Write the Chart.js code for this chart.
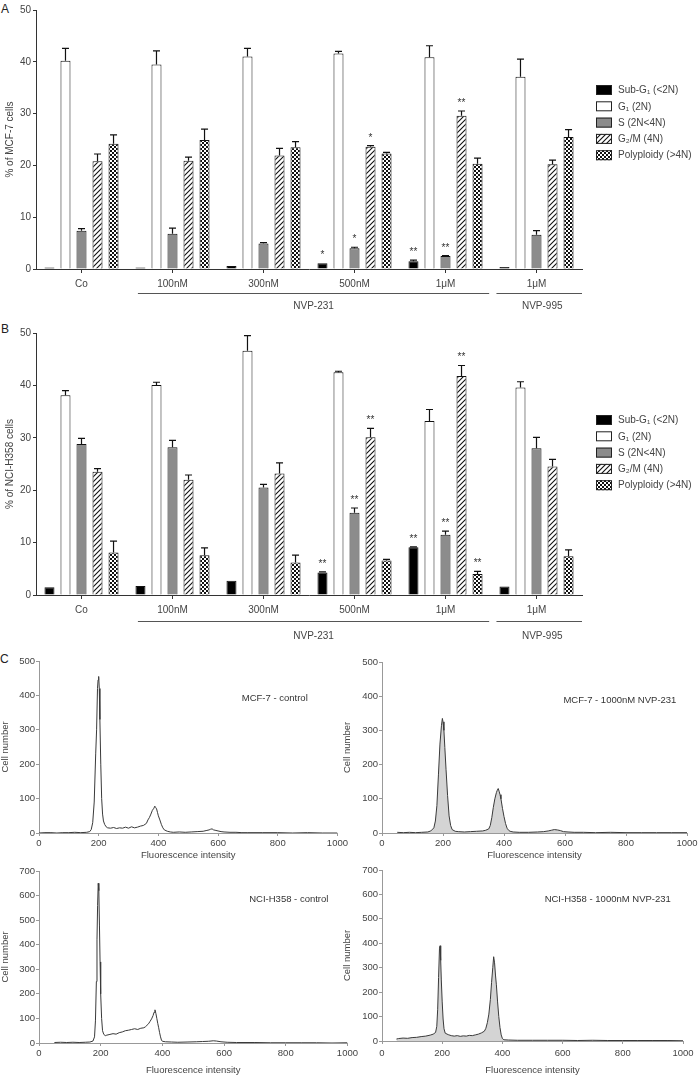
<!DOCTYPE html>
<html><head><meta charset="utf-8">
<script src="https://cdn.jsdelivr.net/npm/chart.js@4.4.1/dist/chart.umd.min.js"></script>
<style>
html,body{margin:0;padding:0;background:#fff}
body{width:700px;height:1076px;position:relative;overflow:hidden;font-family:"Liberation Sans",Arial,sans-serif}
canvas{position:absolute}
.lt{position:absolute;font-size:12px;line-height:1;color:#222}
</style></head>
<body>
<div class="lt" style="left:1px;top:3px">A</div>
<div class="lt" style="left:1px;top:323px">B</div>
<div class="lt" style="left:0px;top:653px">C</div>
<canvas id="cA" width="700" height="320" style="left:0;top:0"></canvas>
<canvas id="cB" width="700" height="330" style="left:0;top:320px"></canvas>
<canvas id="cTL" width="350" height="220" style="left:0;top:650px"></canvas>
<canvas id="cTR" width="360" height="220" style="left:340px;top:650px"></canvas>
<canvas id="cBL" width="360" height="216" style="left:0;top:860px"></canvas>
<canvas id="cBR" width="360" height="216" style="left:340px;top:860px"></canvas>
<script>
// ---------- data ----------
const groups = ['Co', '100nM', '300nM', '500nM', '1μM', '1μM'];
const drugLabels = ['NVP-231', 'NVP-995'];
const seriesNames = ['Sub-G₁ (<2N)', 'G₁ (2N)', 'S (2N<4N)', 'G₂/M (4N)', 'Polyploidy (>4N)'];
const yTicksBar = [0, 10, 20, 30, 40, 50];

// Panel A: MCF-7
const mcfSubG1 = [0.3, 0.3, 0.6, 1.1, 1.5, 0.4];
const mcfG1 = [40.2, 39.5, 41.0, 41.6, 40.9, 37.1];
const mcfS = [7.4, 6.8, 4.9, 4.0, 2.5, 6.6];
const mcfG2M = [20.8, 20.9, 21.9, 23.6, 29.6, 20.2];
const mcfPoly = [24.2, 24.9, 23.5, 22.3, 20.3, 25.5];
const mcfSubG1Err = [0, 0, 0, 0, 0.2, 0];
const mcfG1Err = [2.4, 2.6, 1.6, 0.4, 2.2, 3.4];
const mcfSErr = [0.4, 1.1, 0.2, 0.2, 0.1, 0.8];
const mcfG2MErr = [1.4, 0.7, 1.4, 0.2, 0.9, 0.8];
const mcfPolyErr = [1.7, 2.1, 1.1, 0.2, 1.1, 1.4];
const mcfSubG1Sig = ['', '', '', '*', '**', ''];
const mcfG1Sig = ['', '', '', '', '', ''];
const mcfSSig = ['', '', '', '*', '**', ''];
const mcfG2MSig = ['', '', '', '*', '**', ''];
const mcfPolySig = ['', '', '', '', '', ''];

// Panel B: NCI-H358
const nciSubG1 = [1.5, 1.7, 2.7, 4.3, 9.1, 1.6];
const nciG1 = [38.1, 40.1, 46.6, 42.5, 33.2, 39.6];
const nciS = [28.8, 28.2, 20.5, 15.7, 11.5, 28.0];
const nciG2M = [23.5, 22.0, 23.2, 30.1, 41.8, 24.5];
const nciPoly = [8.1, 7.6, 6.2, 6.6, 4.0, 7.4];
const nciSubG1Err = [0, 0, 0, 0.1, 0.1, 0];
const nciG1Err = [0.9, 0.5, 2.9, 0.2, 2.2, 1.1];
const nciSErr = [1.1, 1.3, 0.6, 0.9, 0.7, 2.1];
const nciG2MErr = [0.6, 0.9, 2.0, 1.7, 2.0, 1.4];
const nciPolyErr = [2.2, 1.4, 1.4, 0.2, 0.5, 1.2];
const nciSubG1Sig = ['', '', '', '**', '**', ''];
const nciG1Sig = ['', '', '', '', '', ''];
const nciSSig = ['', '', '', '**', '**', ''];
const nciG2MSig = ['', '', '', '**', '**', ''];
const nciPolySig = ['', '', '', '', '**', ''];

// Panel C: DNA histograms [fluorescence, cell number]
const histTitles = ['MCF-7 - control', 'MCF-7 - 1000nM NVP-231', 'NCI-H358 - control', 'NCI-H358 - 1000nM NVP-231'];
const mcfControlHist = [[0,0],[20,1],[40,1],[60,0],[80,1],[100,1],[120,2],[140,1],[160,2],[170,4],[175,10],[180,30],[185,90],[190,230],[193,300],[196,420],[198,445],[200,455],[202,420],[204,330],[207,200],[210,100],[213,55],[216,35],[220,25],[225,18],[230,15],[240,14],[250,16],[260,13],[270,15],[280,14],[290,17],[300,14],[310,18],[320,15],[330,17],[340,20],[350,22],[360,28],[365,38],[370,45],[375,55],[380,66],[385,72],[388,78],[391,74],[394,70],[397,60],[400,50],[405,38],[410,25],[415,15],[420,9],[430,5],[440,3],[450,2],[470,3],[490,2],[510,3],[530,4],[550,5],[560,7],[570,9],[575,11],[580,12],[585,9],[590,8],[600,6],[610,4],[620,3],[640,2],[660,2],[680,1],[700,1],[750,1],[800,1],[850,0],[900,1],[950,0],[1000,0]];
const mcfTreatedHist = [[50,2],[70,1],[90,2],[110,1],[130,2],[150,3],[160,6],[170,15],[175,35],[180,80],[185,170],[190,260],[195,315],[198,335],[200,325],[203,300],[206,250],[210,185],[215,110],[220,50],[225,22],[230,10],[240,5],[250,4],[270,3],[290,4],[310,5],[330,6],[340,8],[350,12],[355,22],[360,45],[365,75],[370,100],[375,118],[378,125],[381,130],[384,122],[387,112],[390,100],[395,72],[400,48],[405,28],[410,14],[415,8],[420,5],[430,3],[450,2],[480,2],[510,3],[530,4],[545,6],[555,8],[565,10],[575,9],[585,7],[595,4],[610,3],[630,2],[660,2],[700,1],[750,2],[800,1],[850,1],[900,1],[950,1],[1000,1]];
const nciControlHist = [[50,2],[70,3],[90,2],[110,3],[130,2],[150,3],[165,4],[175,8],[180,25],[183,90],[186,250],[188,420],[190,560],[192,650],[194,620],[196,480],[198,330],[200,200],[203,100],[206,50],[210,35],[215,30],[220,32],[230,35],[240,38],[250,36],[260,42],[270,45],[280,50],[290,52],[300,55],[310,58],[320,55],[330,60],[340,62],[345,66],[350,72],[355,78],[360,88],[365,98],[370,112],[373,125],[376,135],[379,120],[382,100],[385,80],[388,62],[391,42],[394,25],[397,12],[400,7],[410,5],[430,4],[450,3],[480,4],[510,5],[530,6],[550,7],[565,9],[575,8],[590,5],[610,3],[640,2],[700,2],[750,1],[800,1],[850,1],[900,1],[950,0],[1000,1]];
const nciTreatedHist = [[48,8],[55,10],[70,12],[85,11],[100,14],[115,15],[130,18],[145,20],[160,24],[170,28],[178,35],[182,60],[185,130],[188,260],[191,380],[193,390],[195,330],[197,250],[200,160],[203,90],[206,50],[210,32],[220,26],[230,22],[240,20],[250,22],[260,19],[270,21],[280,20],[290,23],[300,22],[310,25],[320,28],[330,33],[340,40],[345,52],[350,75],[355,110],[360,170],[364,240],[368,300],[371,345],[374,320],[377,270],[380,230],[384,160],[388,100],[392,55],[396,25],[400,10],[405,5],[420,4],[450,3],[500,3],[550,3],[600,3],[650,2],[700,3],[750,2],[800,2],[850,2],[900,2],[950,2],[1000,1]];

// ---------- styling ----------
const FONT = '"Liberation Sans", Arial, sans-serif';
Chart.defaults.font.family = FONT;
Chart.defaults.color = '#444';

function makeHatch() {
  const c = document.createElement('canvas'); c.width = 5; c.height = 5;
  const g = c.getContext('2d');
  g.fillStyle = '#fff'; g.fillRect(0, 0, 5, 5);
  g.strokeStyle = '#111'; g.lineWidth = 1.1;
  g.beginPath();
  g.moveTo(-1, 6); g.lineTo(6, -1);
  g.moveTo(-1, 1); g.lineTo(1, -1);
  g.moveTo(4, 6); g.lineTo(6, 4);
  g.stroke();
  return g.createPattern(c, 'repeat');
}
function makeChecker() {
  const c = document.createElement('canvas'); c.width = 4; c.height = 4;
  const g = c.getContext('2d');
  g.fillStyle = '#fff'; g.fillRect(0, 0, 4, 4);
  g.fillStyle = '#111'; g.fillRect(0, 0, 2, 2); g.fillRect(2, 2, 2, 2);
  return g.createPattern(c, 'repeat');
}
const fills = ['#000', '#fff', '#8c8c8c', makeHatch(), makeChecker()];

// error bars + significance stars
const errPlugin = {
  id: 'errbars',
  afterDatasetsDraw(chart) {
    const ctx = chart.ctx, ys = chart.scales.y;
    ctx.save();
    ctx.strokeStyle = '#111'; ctx.lineWidth = 1.2;
    ctx.fillStyle = '#333'; ctx.font = '10px ' + FONT;
    ctx.textAlign = 'center'; ctx.textBaseline = 'alphabetic';
    chart.data.datasets.forEach((ds, i) => {
      const meta = chart.getDatasetMeta(i);
      meta.data.forEach((el, j) => {
        const v = ds.data[j], e = ds.errors[j];
        const yTop = ys.getPixelForValue(v);
        const yE = ys.getPixelForValue(v + e);
        if (e > 0) {
          ctx.beginPath();
          ctx.moveTo(el.x, yTop); ctx.lineTo(el.x, yE);
          ctx.moveTo(el.x - 3.5, yE); ctx.lineTo(el.x + 3.5, yE);
          ctx.stroke();
        }
        const s = ds.sig[j];
        if (s) ctx.fillText(s, el.x, yE - 5);
      });
    });
    ctx.restore();
  }
};

// legend and drug brackets
const decoPlugin = {
  id: 'deco',
  afterDraw(chart, args, o) {
    const ctx = chart.ctx, xs = chart.scales.x, ca = chart.chartArea;
    const w = xs.getPixelForValue(1) - xs.getPixelForValue(0);
    ctx.save();
    ctx.strokeStyle = '#555'; ctx.lineWidth = 1;
    const ly = ca.bottom + o.lineOff, ty = ca.bottom + o.textOff;
    const b1a = xs.getPixelForValue(1) - 0.38 * w, b1b = xs.getPixelForValue(4) + 0.48 * w;
    const b2a = xs.getPixelForValue(5) - 0.44 * w, b2b = xs.getPixelForValue(5) + 0.5 * w;
    ctx.beginPath();
    ctx.moveTo(b1a, ly + 0.5); ctx.lineTo(b1b, ly + 0.5);
    ctx.moveTo(b2a, ly + 0.5); ctx.lineTo(b2b, ly + 0.5);
    ctx.stroke();
    ctx.fillStyle = '#444'; ctx.font = '10px ' + FONT;
    ctx.textAlign = 'center'; ctx.textBaseline = 'middle';
    ctx.fillText(drugLabels[0], (b1a + b1b) / 2, ty);
    ctx.fillText(drugLabels[1], (b2a + b2b) / 2 + 3, ty);
    ctx.textAlign = 'left';
    seriesNames.forEach((n, i) => {
      const y = o.legTop + i * 16.3;
      ctx.fillStyle = fills[i];
      ctx.fillRect(o.legLeft, y - 5, 16, 10);
      ctx.strokeStyle = '#222'; ctx.lineWidth = 1;
      ctx.strokeRect(o.legLeft + 0.5, y - 4.5, 15, 9);
      ctx.fillStyle = '#444';
      ctx.fillText(n, o.legLeft + 22, y + 0.5);
    });
    ctx.restore();
  }
};

function barChart(id, vals, errs, sigs, yTitle, padTop, xHeight, deco) {
  const datasets = vals.map((d, i) => ({
    label: seriesNames[i], data: d, errors: errs[i], sig: sigs[i],
    backgroundColor: fills[i], borderColor: '#111', borderWidth: 1,
    categoryPercentage: 0.88, barPercentage: 0.625
  }));
  return new Chart(document.getElementById(id), {
    type: 'bar',
    data: { labels: groups, datasets },
    options: {
      responsive: false, animation: false, devicePixelRatio: 1,
      layout: { padding: { left: 0, top: padTop, right: 118, bottom: 0 } },
      plugins: { legend: { display: false }, tooltip: { enabled: false }, deco },
      scales: {
        x: {
          afterFit: s => { s.height = xHeight; },
          grid: { display: true, drawOnChartArea: false, drawTicks: true, tickLength: 4, offset: false, color: '#333' },
          border: { display: true, color: '#333', width: 1 },
          ticks: { font: { size: 10 }, color: '#444', padding: 5, maxRotation: 0, autoSkip: false }
        },
        y: {
          min: 0, max: 50,
          afterFit: s => { s.width = 36; },
          afterBuildTicks: s => { s.ticks = yTicksBar.map(v => ({ value: v })); },
          grid: { display: true, drawOnChartArea: false, drawTicks: true, tickLength: 3, color: '#333' },
          border: { display: true, color: '#333', width: 1 },
          ticks: { font: { size: 10 }, color: '#444', padding: 2 },
          title: { display: true, text: yTitle, font: { size: 10 }, color: '#444', padding: { top: 4, bottom: 0 } }
        }
      }
    },
    plugins: [errPlugin, decoPlugin]
  });
}

barChart('cA', [mcfSubG1, mcfG1, mcfS, mcfG2M, mcfPoly],
  [mcfSubG1Err, mcfG1Err, mcfSErr, mcfG2MErr, mcfPolyErr],
  [mcfSubG1Sig, mcfG1Sig, mcfSSig, mcfG2MSig, mcfPolySig],
  '% of MCF-7 cells', 10, 51, { lineOff: 24, textOff: 37, legLeft: 596, legTop: 90 });

barChart('cB', [nciSubG1, nciG1, nciS, nciG2M, nciPoly],
  [nciSubG1Err, nciG1Err, nciSErr, nciG2MErr, nciPolyErr],
  [nciSubG1Sig, nciG1Sig, nciSSig, nciG2MSig, nciPolySig],
  '% of NCI-H358 cells', 13, 55, { lineOff: 26, textOff: 41, legLeft: 596, legTop: 100 });

const histLabel = {
  id: 'hlabel',
  afterDraw(chart, args, o) {
    const ctx = chart.ctx, ca = chart.chartArea;
    ctx.save();
    ctx.fillStyle = '#333'; ctx.font = '9.5px ' + FONT;
    ctx.textAlign = 'center'; ctx.textBaseline = 'middle';
    ctx.fillText(o.text, ca.left + o.fx * (ca.right - ca.left), ca.top + o.dy);
    ctx.restore();
  }
};

function histChart(id, pts, yMax, filled, lay) {
  return new Chart(document.getElementById(id), {
    type: 'scatter',
    data: { datasets: [{
      data: pts.map(p => ({ x: p[0], y: p[1] })),
      showLine: true, pointRadius: 0, borderColor: '#3a3a3a', borderWidth: 1,
      tension: 0, fill: filled ? 'origin' : false,
      backgroundColor: filled ? '#d4d4d4' : 'transparent'
    }] },
    options: {
      responsive: false, animation: false, devicePixelRatio: 1,
      layout: { padding: { left: 0, top: lay.top, right: lay.right, bottom: 0 } },
      plugins: { legend: { display: false }, tooltip: { enabled: false }, hlabel: lay.label },
      scales: {
        x: {
          type: 'linear', min: 0, max: 1000,
          afterFit: s => { s.height = lay.xh; },
          ticks: { stepSize: 200, font: { size: 9.5 }, color: '#444', padding: lay.tp, maxRotation: 0, callback: v => String(v) },
          grid: { display: true, drawOnChartArea: false, drawTicks: true, tickLength: 3, color: '#999' },
          border: { display: true, color: '#999', width: 1 },
          title: { display: true, text: 'Fluorescence intensity', font: { size: 9.5 }, color: '#444', padding: { top: 0, bottom: lay.tb } }
        },
        y: {
          min: 0, max: yMax,
          afterFit: s => { s.width = lay.yw; },
          ticks: { stepSize: 100, font: { size: 9.5 }, color: '#444', padding: 1, callback: v => String(v) },
          grid: { display: true, drawOnChartArea: false, drawTicks: true, tickLength: 3, color: '#999' },
          border: { display: true, color: '#999', width: 1 },
          title: { display: true, text: 'Cell number', font: { size: 9.5 }, color: '#444', padding: { top: lay.yt, bottom: 0 } }
        }
      }
    },
    plugins: [histLabel]
  });
}

histChart('cTL', mcfControlHist, 500, false,
  { top: 11, right: 7, xh: 37, yw: 39, tp: 2, tb: 9, yt: 0, label: { text: histTitles[0], fx: 0.79, dy: 37 } });
histChart('cTR', mcfTreatedHist, 500, true,
  { top: 12, right: 13, xh: 37, yw: 42, tp: 2, tb: 9, yt: 1.3, label: { text: histTitles[1], fx: 0.78, dy: 38 } });
histChart('cBL', nciControlHist, 700, false,
  { top: 11, right: 8, xh: 33, yw: 39, tp: 2, tb: 0, yt: 0, label: { text: histTitles[2], fx: 0.81, dy: 28 } });
histChart('cBR', nciTreatedHist, 700, true,
  { top: 10, right: 17, xh: 35, yw: 42, tp: 4, tb: 0, yt: 1.3, label: { text: histTitles[3], fx: 0.75, dy: 29 } });
</script>
</body></html>
